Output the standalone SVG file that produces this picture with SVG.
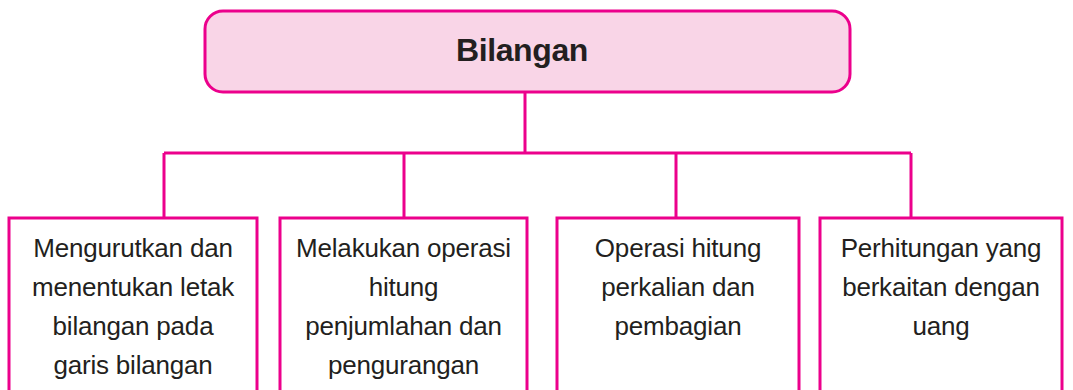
<svg xmlns="http://www.w3.org/2000/svg" width="1073" height="390" viewBox="0 0 1073 390">
<style>
.box{fill:#ffffff;stroke:#ec008c;stroke-width:3}
.root{fill:#f9d5e7;stroke:#ec008c;stroke-width:3}
.con{fill:none;stroke:#ec008c;stroke-width:3}
.t{font-family:"Liberation Sans",Arial,sans-serif;font-size:26px;fill:#231f20;text-anchor:middle;letter-spacing:-0.2px}
.title{font-family:"Liberation Sans",Arial,sans-serif;font-size:32px;font-weight:bold;fill:#231f20;text-anchor:middle;letter-spacing:-0.4px}
</style>
<rect width="1073" height="390" fill="#ffffff"/>
<g id="connectors">
<path class="con" d="M525 92V153M164 153H911M164 153V217M404 153V217M676 153V217M911 153V217"/>
</g>
<g id="root">
<rect class="root" x="205" y="11" width="645" height="81" rx="18"/>
<text class="title" x="522" y="61">Bilangan</text>
</g>
<g id="node1">
<rect class="box" x="9" y="218" width="248" height="190"/>
<text class="t" x="133" y="257">Mengurutkan dan</text>
<text class="t" x="133" y="296">menentukan letak</text>
<text class="t" x="133" y="335">bilangan pada</text>
<text class="t" x="133" y="374">garis bilangan</text>
</g>
<g id="node2">
<rect class="box" x="280" y="218" width="247" height="190"/>
<text class="t" x="403.5" y="257">Melakukan operasi</text>
<text class="t" x="403.5" y="296">hitung</text>
<text class="t" x="403.5" y="335">penjumlahan dan</text>
<text class="t" x="403.5" y="374">pengurangan</text>
</g>
<g id="node3">
<rect class="box" x="557" y="218" width="242" height="190"/>
<text class="t" x="678" y="257">Operasi hitung</text>
<text class="t" x="678" y="296">perkalian dan</text>
<text class="t" x="678" y="335">pembagian</text>
</g>
<g id="node4">
<rect class="box" x="820" y="218" width="242" height="190"/>
<text class="t" x="941" y="257">Perhitungan yang</text>
<text class="t" x="941" y="296">berkaitan dengan</text>
<text class="t" x="941" y="335">uang</text>
</g>
</svg>
